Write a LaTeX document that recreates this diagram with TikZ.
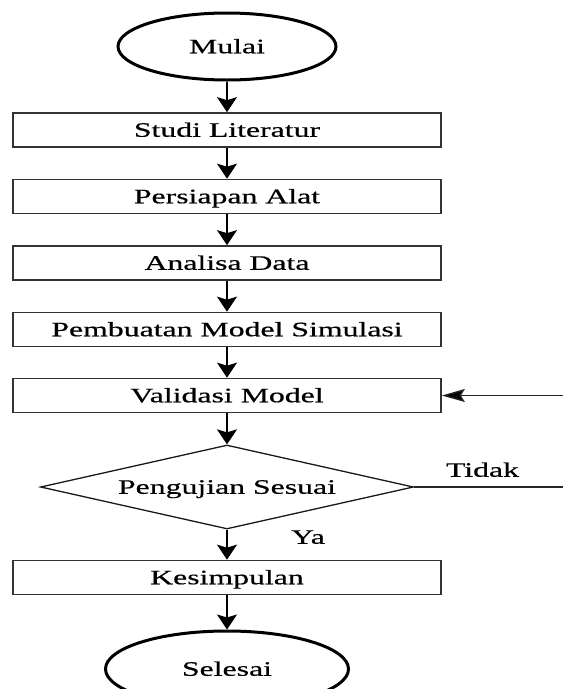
\documentclass[tikz,border=0pt]{standalone}
\usepackage{fontspec}
\setmainfont{Liberation Serif}[FakeStretch=1.55,FakeBold=0.6]
\usetikzlibrary{shapes.geometric,arrows.meta}
\begin{document}
\begin{tikzpicture}[x=1pt,y=-1pt,
  every node/.style={font=\fontsize{20.5pt}{24pt}\selectfont, text height=13.5pt, text depth=0pt, inner sep=0pt},
  terminal/.style={ellipse, draw=black, line width=3pt, minimum width=218pt, minimum height=67pt},
  procbox/.style={rectangle, draw=black!80, line width=1.7pt, minimum width=428pt, minimum height=34pt},
  decision/.style={diamond, draw=black!90, line width=1.3pt, aspect=4.44, minimum width=373pt, minimum height=84pt},
  flow/.style={draw=black, line width=1.6pt, -{Stealth[length=15pt,width=20pt,inset=3pt]}},
  hflow/.style={draw=black!85, line width=1.3pt, -{Stealth[length=23pt,width=13pt,inset=4pt,fill=black]}},
  plain/.style={draw=black!85, line width=1.3pt}]
\useasboundingbox (0,0) rectangle (563,689);
\node[terminal] (mulai) at (227,46.5) {Mulai};
\node[procbox] (studi) at (227,130) {Studi Literatur};
\node[procbox] (alat) at (227,196.5) {Persiapan Alat};
\node[procbox] (analisa) at (227,263) {Analisa Data};
\node[procbox] (model) at (227,329.5) {Pembuatan Model Simulasi};
\node[procbox] (valid) at (227,395.5) {Validasi Model};
\node[decision] (uji) at (227,487) {Pengujian Sesuai};
\node[procbox] (kes) at (227,577.5) {Kesimpulan};
\node[terminal, minimum width=243pt, minimum height=76pt] (selesai) at (227,669) {Selesai};
\node (tidak) at (482.5,470) {Tidak};
\node (ya) at (308,537) {Ya};
\coordinate (edgeA) at (563,487);
\coordinate (edgeB) at (563,395.5);
\draw[flow] (mulai) -- (studi);
\draw[flow] (studi) -- (alat);
\draw[flow] (alat) -- (analisa);
\draw[flow] (analisa) -- (model);
\draw[flow] (model) -- (valid);
\draw[flow] (valid) -- (uji);
\draw[flow] (uji) -- (kes);
\draw[flow] (kes) -- (selesai);
\draw[plain] (uji.east) -- (edgeA);
\draw[hflow] (edgeB) -- (valid.east);
\end{tikzpicture}
\end{document}
